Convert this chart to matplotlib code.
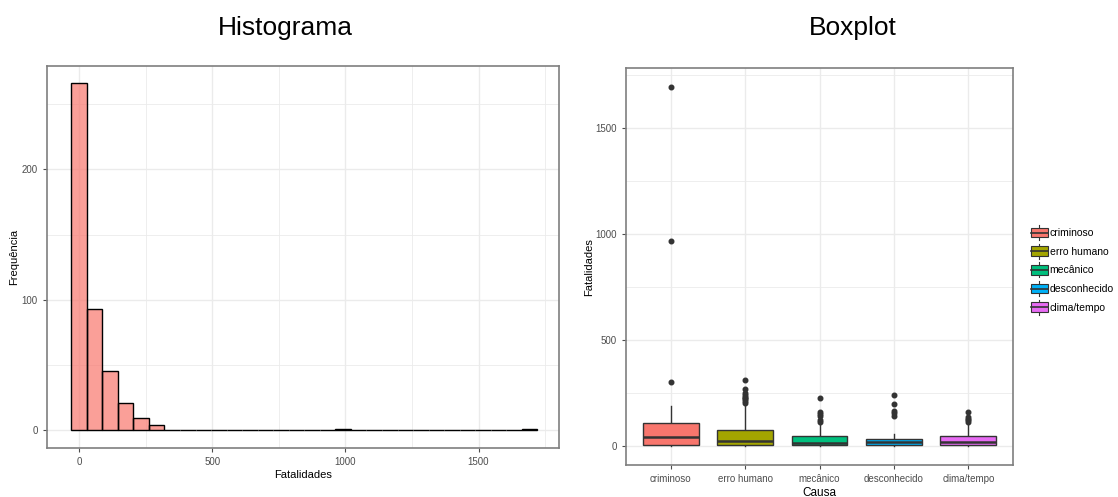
import matplotlib
matplotlib.use("Agg")
import matplotlib.pyplot as plt
from matplotlib.legend_handler import HandlerBase
from matplotlib.patches import Rectangle
from matplotlib.lines import Line2D
import numpy as np

plt.rcParams['font.family'] = ['Liberation Sans', 'DejaVu Sans']

# ---------------- data ----------------
bin_width = 58.34
hist_counts = [266, 93, 45, 21, 9, 4, 0, 0, 0, 0, 0, 0, 0, 0, 0, 0, 0, 1,
               0, 0, 0, 0, 0, 0, 0, 0, 0, 0, 0, 1]
hist_centers = [i * bin_width for i in range(len(hist_counts))]

causas = ["criminoso", "erro humano", "mecânico", "desconhecido", "clima/tempo"]
cores = ["#F8766D", "#A3A500", "#00BF7D", "#00B0F6", "#E76BF3"]
q1 = [2, 3, 2, 2, 3]
medianas = [42, 23, 11, 17, 19]
q3 = [106, 76, 44, 30, 44]
whis_lo = [0, 0, 0, 0, 0]
whis_hi = [185, 185, 100, 56, 100]
outliers = [
    [300, 965, 1692],
    [203, 212, 219, 226, 231, 240, 247, 266, 310],
    [113, 120, 140, 150, 158, 226],
    [141, 153, 166, 197, 240],
    [112, 120, 128, 135, 161],
]

W, H = 1118, 497
fig = plt.figure(figsize=(W / 100, H / 100), dpi=100)

grid_c = "#EBEBEB"
tick_c = "#4D4D4D"
border_c = "#7F7F7F"


def style_axes(ax):
    for s in ax.spines.values():
        s.set_color(border_c)
        s.set_linewidth(1.2)
    ax.tick_params(axis='both', colors=tick_c, labelsize=7, length=3, width=0.8,
                   labelcolor=tick_c)
    ax.set_axisbelow(True)


# ---------------- histogram ----------------
ax1 = fig.add_axes([46.7 / W, 1 - 447.7 / H, (559 - 46.7) / W, (447.7 - 65.7) / H])
ax1.bar(hist_centers, hist_counts, width=bin_width, color="#F8766D", alpha=0.7,
        edgecolor="none", zorder=2)
ax1.bar(hist_centers, hist_counts, width=bin_width, facecolor="none",
        edgecolor="black", linewidth=1.0, zorder=3)
ax1.set_xlim(-121, 1802)
ax1.set_ylim(-13.6, 279.6)
ax1.set_xticks([0, 500, 1000, 1500])
ax1.set_xticks([250, 750, 1250, 1750], minor=True)
ax1.set_yticks([0, 100, 200])
ax1.set_yticks([50, 150, 250], minor=True)
ax1.tick_params(which='minor', length=0)
ax1.grid(True, which='major', color=grid_c, linewidth=1.0)
ax1.grid(True, which='minor', color=grid_c, linewidth=0.6)
style_axes(ax1)
ax1.set_xlabel("Fatalidades", fontsize=8, labelpad=2)
ax1.set_ylabel("Frequência", fontsize=8, labelpad=2)
fig.text(285.7 / W, 1 - 28 / H, "Histograma", fontsize=19, ha='center', va='center')

# ---------------- boxplot ----------------
ax2 = fig.add_axes([626 / W, 1 - 465 / H, (1013 - 626) / W, (465 - 68.3) / H])
positions = np.arange(1, len(causas) + 1)
stats = []
for i in range(len(causas)):
    stats.append(dict(med=medianas[i], q1=q1[i], q3=q3[i],
                      whislo=whis_lo[i], whishi=whis_hi[i], fliers=outliers[i]))
bp = ax2.bxp(stats, positions=positions, widths=0.75, patch_artist=True,
             showcaps=False,
             boxprops=dict(edgecolor="#333333", linewidth=1.0),
             medianprops=dict(color="#333333", linewidth=1.8),
             whiskerprops=dict(color="#333333", linewidth=1.0),
             flierprops=dict(marker='o', markerfacecolor="#333333",
                             markeredgecolor="#333333", markersize=3.3))
for patch, c in zip(bp['boxes'], cores):
    patch.set_facecolor(c)
for w in bp['whiskers']:
    w.set_zorder(1.5)
ax2.set_xlim(0.4, 5.6)
ax2.set_ylim(-91, 1780)
ax2.set_xticks(positions)
ax2.set_xticklabels(causas)
ax2.set_yticks([0, 500, 1000, 1500])
ax2.set_yticks([250, 750, 1250, 1750], minor=True)
ax2.tick_params(which='minor', length=0)
ax2.grid(True, which='major', color=grid_c, linewidth=1.0)
ax2.grid(True, which='minor', axis='y', color=grid_c, linewidth=0.6)
style_axes(ax2)
ax2.set_xlabel("Causa", fontsize=8.5, labelpad=2)
ax2.set_ylabel("Fatalidades", fontsize=8, labelpad=1)
fig.text(853 / W, 1 - 28 / H, "Boxplot", fontsize=19, ha='center', va='center')


class HandlerBox(HandlerBase):
    def create_artists(self, legend, orig_handle, xdescent, ydescent, width,
                       height, fontsize, trans):
        c = orig_handle.get_facecolor()
        cx = -xdescent + width / 2
        top = -ydescent + height * 1.2
        bot = -ydescent - height * 0.2
        ln = Line2D([cx, cx], [bot, top], color="#333333", lw=0.8, transform=trans)
        r = Rectangle((-xdescent, -ydescent + height * 0.05), width, height * 0.9,
                      facecolor=c, edgecolor="#333333", lw=0.8, transform=trans)
        m = Line2D([-xdescent, -xdescent + width], [-ydescent + height * 0.5] * 2,
                   color="#333333", lw=1.2, transform=trans)
        return [ln, r, m]


handles = [Rectangle((0, 0), 1, 1, facecolor=c) for c in cores]
fig.legend(handles, causas, handler_map={Rectangle: HandlerBox()},
           loc='center left', bbox_to_anchor=(1031 / W, 1 - 270 / H),
           frameon=False, fontsize=7.5, handlelength=1.6, handleheight=1.2,
           handletextpad=0.2, labelspacing=0.75, borderaxespad=0, borderpad=0)

fig.savefig("out.png", dpi=100)
